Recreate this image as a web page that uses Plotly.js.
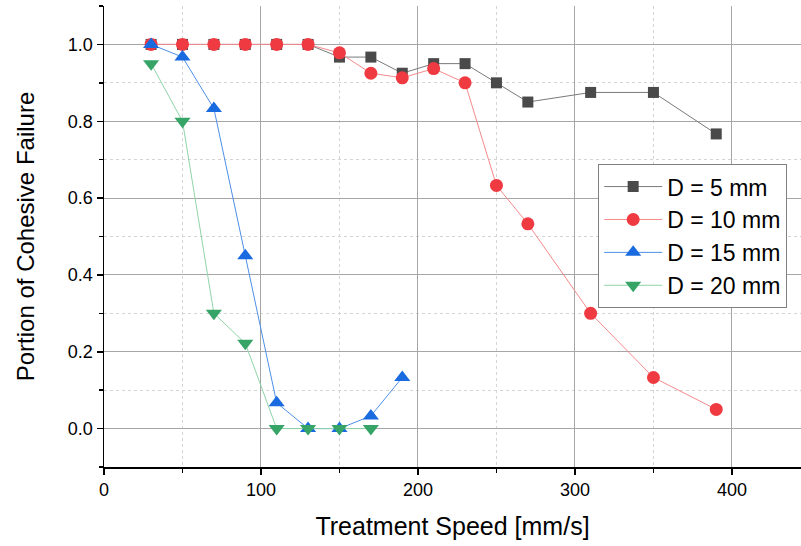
<!DOCTYPE html>
<html>
<head>
<meta charset="utf-8">
<script src="https://cdn.plot.ly/plotly-3.0.1.min.js"></script>
<style>html,body{margin:0;padding:0;background:#fff;}#chart{width:801px;height:546px;}</style>
</head>
<body>
<div id="chart"></div>
<script>
const speedsFull = [30, 50, 70, 90, 110, 130, 150, 170, 190, 210, 230, 250, 270, 310, 350, 390];
const d5 = [1.0, 1.0, 1.0, 1.0, 1.0, 1.0, 0.967, 0.967, 0.925, 0.95, 0.95, 0.9, 0.85, 0.875, 0.875, 0.767];
const d10 = [1.0, 1.0, 1.0, 1.0, 1.0, 1.0, 0.978, 0.925, 0.913, 0.937, 0.9, 0.633, 0.533, 0.3, 0.133, 0.05];
const speeds15 = [30, 50, 70, 90, 110, 130, 150, 170, 190];
const d15 = [1.0, 0.967, 0.833, 0.45, 0.067, 0.0, 0.0, 0.033, 0.133];
const speeds20 = [30, 50, 70, 90, 110, 130, 150, 170];
const d20 = [0.95, 0.8, 0.3, 0.222, 0.0, 0.0, 0.0, 0.0];
const seriesNames = ['D = 5 mm', 'D = 10 mm', 'D = 15 mm', 'D = 20 mm'];
const xTicks = [0, 100, 200, 300, 400];
const yTicks = [0, 0.2, 0.4, 0.6, 0.8, 1.0];
const yTickText = ['0.0', '0.2', '0.4', '0.6', '0.8', '1.0'];

const font = 'Liberation Sans, Arial, sans-serif';
const traces = [
  {x: speedsFull, y: d5, name: seriesNames[0], mode: 'lines+markers',
   line: {color: '#7a7a7a', width: 1}, marker: {symbol: 'square', size: 11, color: '#4a4a4a'}},
  {x: speedsFull, y: d10, name: seriesNames[1], mode: 'lines+markers',
   line: {color: '#f58a8c', width: 1}, marker: {symbol: 'circle', size: 13, color: '#f03a42'}},
  {x: speeds15, y: d15, name: seriesNames[2], mode: 'lines+markers',
   line: {color: '#4d8fe8', width: 1}, marker: {symbol: 'triangle-up', size: 14, color: '#1a6be0'}},
  {x: speeds20, y: d20, name: seriesNames[3], mode: 'lines+markers',
   line: {color: '#8fd4aa', width: 1}, marker: {symbol: 'triangle-down', size: 14, color: '#35a466'}}
];

const layout = {
  width: 801, height: 546,
  margin: {l: 104, r: 0, t: 6, b: 79},
  paper_bgcolor: '#fff', plot_bgcolor: '#fff',
  font: {family: font, color: '#000'},
  showlegend: true,
  legend: {x: 0.709, y: 0.657, xanchor: 'left', yanchor: 'top',
    bgcolor: '#fff', bordercolor: '#808080', borderwidth: 1,
    font: {family: font, size: 23, color: '#000'}, itemwidth: 58, tracegroupgap: 0},
  xaxis: {
    range: [0, 444], tickvals: xTicks, ticktext: xTicks.map(String),
    showline: true, linecolor: '#000', linewidth: 1.5, mirror: false,
    ticks: 'outside', ticklen: 6, tickwidth: 1.5, tickcolor: '#000',
    tickfont: {family: font, size: 18, color: '#000'},
    showgrid: true, gridcolor: '#a6a6a6', gridwidth: 1, zeroline: false,
    minor: {dtick: 50, tick0: 0, showgrid: true, gridcolor: '#d4d4d4', griddash: 'dot', ticks: 'outside', ticklen: 4, tickcolor: '#000'},
    title: {text: 'Treatment Speed [mm/s]', font: {family: font, size: 25, color: '#000'}, standoff: 18}
  },
  yaxis: {
    range: [-0.1, 1.1], tickvals: yTicks, ticktext: yTickText,
    showline: true, linecolor: '#000', linewidth: 1.5, mirror: false,
    ticks: 'outside', ticklen: 6, tickwidth: 1.5, tickcolor: '#000',
    tickfont: {family: font, size: 18, color: '#000'},
    showgrid: true, gridcolor: '#a6a6a6', gridwidth: 1, zeroline: false,
    minor: {dtick: 0.1, tick0: 0, showgrid: true, gridcolor: '#d4d4d4', griddash: 'dot', ticks: 'outside', ticklen: 4, tickcolor: '#000'},
    title: {text: 'Portion of Cohesive Failure', font: {family: font, size: 24, color: '#000'}, standoff: 26}
  }
};

Plotly.newPlot('chart', traces, layout, {displayModeBar: false, staticPlot: true});
</script>
</body>
</html>
